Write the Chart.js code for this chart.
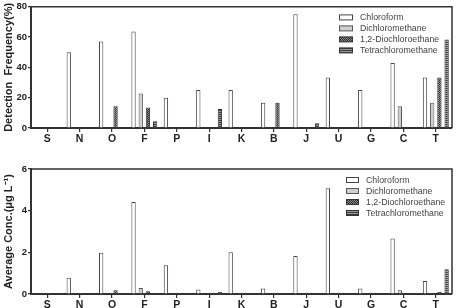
<!DOCTYPE html>
<html>
<head>
<meta charset="utf-8">
<script src="https://cdn.jsdelivr.net/npm/chart.js@4"></script>
<style>
  html, body { margin: 0; padding: 0; background: #fff; }
  #wrap { position: relative; width: 457px; height: 308px; }
  #wrap canvas { position: absolute; left: 0; }
</style>
</head>
<body>
<div id="wrap">
  <canvas id="graf1" style="top:0"></canvas>
  <canvas id="graf2" style="top:150px"></canvas>
</div>
<script>
// sampling sites
var sites = ['S','N','O','F','P','I','K','B','J','U','G','C','T'];
var compounds = ['Chloroform','Dichloromethane','1,2-Diochloroethane','Tetrachloromethane'];

// detection frequency (%)
var freqChloroform = [0, 50, 57.1, 63.6, 20, 25, 25, 16.7, 75, 33.3, 25, 42.9, 33.3];
var freqDichloromethane = [0, 0, 0, 22.7, 0, 0, 0, 0, 0, 0, 0, 14.3, 16.7];
var freqDichloroethane = [0, 0, 14.3, 13.6, 0, 0, 0, 16.7, 0, 0, 0, 0, 33.3];
var freqTetrachloromethane = [0, 0, 0, 4.5, 0, 12.5, 0, 0, 3.1, 0, 0, 0, 58.3];
var freqTicks = [0, 20, 40, 60, 80];

// average concentration (ug/L)
var concChloroform = [0, 0.78, 1.98, 4.42, 1.38, 0.22, 2.0, 0.27, 1.83, 5.08, 0.27, 2.66, 0.62];
var concDichloromethane = [0, 0, 0, 0.29, 0, 0, 0, 0, 0, 0, 0, 0.18, 0.04];
var concDichloroethane = [0, 0, 0.18, 0.13, 0, 0, 0, 0.03, 0, 0, 0, 0, 0.1];
var concTetrachloromethane = [0, 0, 0, 0.02, 0, 0.1, 0, 0, 0.03, 0, 0, 0, 1.19];
var concTicks = [0, 2, 4, 6];

var FONT = "'Liberation Sans', Arial, sans-serif";

// fill patterns like the printed figure
function makePattern(w, h, draw) {
  var c = document.createElement('canvas');
  c.width = w; c.height = h;
  var g = c.getContext('2d');
  draw(g);
  return g.createPattern(c, 'repeat');
}
var checker = makePattern(2, 2, function (g) {
  g.fillStyle = '#2e2e2e'; g.fillRect(0, 0, 2, 2);
  g.fillStyle = '#8a8a8a'; g.fillRect(0, 0, 1, 1); g.fillRect(1, 1, 1, 1);
});
var stripes = makePattern(2, 2, function (g) {
  g.fillStyle = '#3a3a3a'; g.fillRect(0, 0, 2, 1);
  g.fillStyle = '#9a9a9a'; g.fillRect(0, 1, 2, 1);
});
var fills = ['#ffffff', '#cfcfcf', checker, stripes];
var borders = ['#444', '#555', '#333', '#333'];

function makeDatasets(series) {
  return series.map(function (vals, i) {
    return {
      label: compounds[i],
      data: vals,
      backgroundColor: fills[i],
      borderColor: borders[i],
      borderWidth: 1,
      categoryPercentage: 0.89,
      barPercentage: 0.6
    };
  });
}

// box around the plot area
var framePlugin = {
  id: 'frame',
  afterDraw: function (chart) {
    var a = chart.chartArea, ctx = chart.ctx;
    ctx.save();
    ctx.strokeStyle = '#333';
    ctx.lineWidth = 1.5;
    ctx.beginPath();
    ctx.moveTo(a.left, a.top);
    ctx.lineTo(a.right, a.top);
    ctx.lineTo(a.right, a.bottom);
    ctx.stroke();
    ctx.restore();
  }
};

// legend drawn inside the plot, top right
var boxLegend = {
  id: 'boxLegend',
  afterDraw: function (chart, args, opts) {
    var a = chart.chartArea, ctx = chart.ctx;
    ctx.save();
    ctx.font = '8.8px ' + FONT;
    ctx.textBaseline = 'middle';
    chart.data.datasets.forEach(function (ds, i) {
      var y = a.top + opts.top + i * 11;
      var x = a.right - opts.right;
      ctx.fillStyle = ds.backgroundColor;
      ctx.fillRect(x, y - 2.5, opts.sw, 5);
      ctx.strokeStyle = ds.borderColor;
      ctx.lineWidth = 1;
      ctx.strokeRect(x + 0.5, y - 2.5, opts.sw - 1, 5);
      ctx.fillStyle = '#444';
      ctx.fillText(ds.label, x + opts.sw + 7, y + 0.5);
    });
    ctx.restore();
  }
};

function makeOptions(ticks, title, padTop, xHeight, legendOpts) {
  return {
    responsive: false,
    animation: false,
    layout: { padding: { left: 0, right: 5, top: padTop, bottom: 0 } },
    plugins: {
      legend: { display: false },
      tooltip: { enabled: false },
      boxLegend: legendOpts
    },
    scales: {
      x: {
        grid: { offset: false, drawOnChartArea: false, tickLength: 4, color: '#333', lineWidth: 1.2 },
        border: { color: '#333', width: 2 },
        ticks: { color: '#222', font: { family: FONT, size: 10.5, weight: 'bold' }, padding: 1, maxRotation: 0 },
        afterFit: function (s) { s.height = xHeight; }
      },
      y: {
        min: ticks[0],
        max: ticks[ticks.length - 1],
        afterBuildTicks: function (s) { s.ticks = ticks.map(function (v) { return { value: v }; }); },
        grid: { drawOnChartArea: false, tickLength: 3, color: '#333', lineWidth: 1.2 },
        border: { color: '#333', width: 2 },
        ticks: { color: '#222', font: { family: FONT, size: 9.5, weight: 'bold' }, padding: 1 },
        title: { display: true, text: title, color: '#222', font: { family: FONT, size: 11, weight: 'bold' }, padding: { top: 2, bottom: 0 } },
        afterFit: function (s) { s.width = 31; }
      }
    }
  };
}

var ctx1 = document.getElementById('graf1');
ctx1.width = 457; ctx1.height = 150;
var graf1 = new Chart(ctx1, {
  type: 'bar',
  data: {
    labels: sites,
    datasets: makeDatasets([freqChloroform, freqDichloromethane, freqDichloroethane, freqTetrachloromethane])
  },
  options: makeOptions(freqTicks, 'Detection  Frequency(%)', 4, 22, { top: 10.7, right: 113, sw: 14 }),
  plugins: [framePlugin, boxLegend]
});

var ctx2 = document.getElementById('graf2');
ctx2.width = 457; ctx2.height = 158;
var graf2 = new Chart(ctx2, {
  type: 'bar',
  data: {
    labels: sites,
    datasets: makeDatasets([concChloroform, concDichloromethane, concDichloroethane, concTetrachloromethane])
  },
  options: makeOptions(concTicks, 'Average Conc.(\u03bcg L\u207b\u00b9)', 19, 14, { top: 11, right: 106, sw: 13 }),
  plugins: [framePlugin, boxLegend]
});
</script>
</body>
</html>
